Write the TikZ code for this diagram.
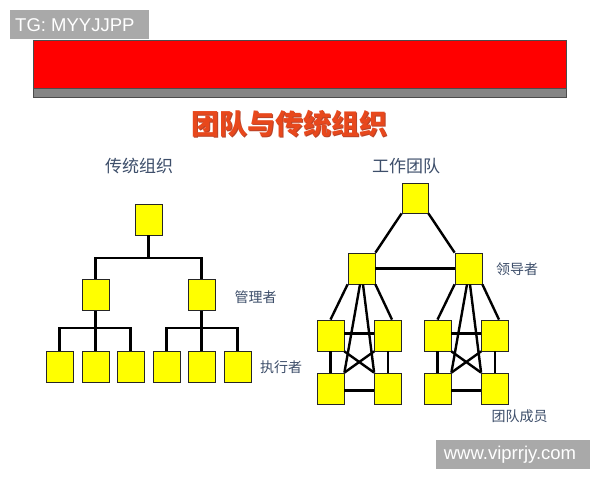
\documentclass[tikz,border=0pt]{standalone}
\usepackage{fontspec}
\setmainfont{Liberation Sans}
\newfontfamily\cjk{Noto Sans CJK SC}
\usetikzlibrary{calc}
\definecolor{boxyellow}{HTML}{FFFF00}
\definecolor{labelblue}{HTML}{3D4E6A}
\definecolor{titlered}{HTML}{E8481C}
\definecolor{shadowred}{HTML}{B8442A}
\definecolor{wmgray}{HTML}{A9A9A9}
\definecolor{barred}{HTML}{FF0000}
\definecolor{bargray}{HTML}{858585}
\begin{document}
\begin{tikzpicture}[x=1pt,y=-1pt,
  member/.style={draw=black!85,line width=0.8pt,fill=boxyellow,minimum width=27pt,minimum height=31pt,inner sep=0pt},
  link/.style={line width=2.4pt,black},
  lbl/.style={font=\cjk\fontsize{14}{14}\selectfont,text=labelblue,inner sep=0pt},
  sublbl/.style={font=\cjk\fontsize{17}{17}\selectfont,text=labelblue,inner sep=0pt},
  wm/.style={fill=wmgray,text=white,font=\fontsize{18.5}{18.5}\selectfont,inner sep=0pt,anchor=north west}
]
\useasboundingbox (0,0) rectangle (600,480);
\fill[white] (0,0) rectangle (600,480);
% banner
\fill[barred] (33,40) rectangle (566,88);
\fill[bargray] (33,88) rectangle (566,97);
\draw[black!70,line width=0.8pt] (33,40) rectangle (566,97);
\draw[black!70,line width=0.8pt] (33,88) -- (566,88);
% watermarks
\node[wm,minimum width=139pt,minimum height=29pt] (wmtop) at (10,10) {};
\node[text=white,font=\fontsize{18.5}{18.5}\selectfont,inner sep=0pt,anchor=west] (wmtoptext) at (15,25) {TG: MYYJJPP};
\node[wm,minimum width=154pt,minimum height=29pt] (wmbot) at (436,440) {};
\node[text=white,font=\fontsize{18.5}{18.5}\selectfont,inner sep=0pt] (wmbottext) at (510,454.5) {www.viprrjy.com};
% title
\node[font=\cjk\bfseries\fontsize{28}{28}\selectfont,text=shadowred,inner sep=0pt] (titleshadow) at (290.2,125.2) {团队与传统组织};
\node[font=\cjk\bfseries\fontsize{28}{28}\selectfont,text=titlered,inner sep=0pt] (title) at (289,124) {团队与传统组织};
\node[sublbl] (sub1) at (139,166) {传统组织};
\node[sublbl] (sub2) at (406,166) {工作团队};
% left tree
\node[member] (t0) at (148.5,219.5) {};
\node[member] (m1) at (95.5,295) {};
\node[member] (m2) at (201.5,295) {};
\node[member] (b1) at (59.5,366.5) {};
\node[member] (b2) at (95.5,366.5) {};
\node[member] (b3) at (130.5,366.5) {};
\node[member] (b4) at (166.5,366.5) {};
\node[member] (b5) at (201.5,366.5) {};
\node[member] (b6) at (237.5,366.5) {};
\coordinate (h0) at (148.5,258);
\coordinate (h1) at (95.5,328);
\coordinate (h2) at (201.5,328);
\draw[link] (t0.south) -- (h0);
\draw[link] (m1.north) |- (h0);
\draw[link] (m2.north) |- (h0);
\draw[link] (m1.south) -- (h1);
\draw[link] (b2.north) -- (h1);
\draw[link] (b1.north) |- (h1);
\draw[link] (b3.north) |- (h1);
\draw[link] (m2.south) -- (h2);
\draw[link] (b5.north) -- (h2);
\draw[link] (b4.north) |- (h2);
\draw[link] (b6.north) |- (h2);
\node[lbl] (lmgr) at (255.5,297) {管理者};
\node[lbl] (lexe) at (281,367) {执行者};
% right tree
\node[member,minimum width=26pt,minimum height=30pt] (r0) at (415,198) {};
\node[member] (L1) at (361.5,268.5) {};
\node[member] (L2) at (468.5,268.5) {};
\node[member] (A1) at (330.5,335.5) {};
\node[member] (A2) at (388,335.5) {};
\node[member] (A3) at (330.5,388.5) {};
\node[member] (A4) at (388,388.5) {};
\node[member] (B1) at (437.5,335.5) {};
\node[member] (B2) at (495,335.5) {};
\node[member] (B3) at (437.5,388.5) {};
\node[member] (B4) at (495,388.5) {};
\draw[link] (r0.south west) -- (L1.north east);
\draw[link] (r0.south east) -- (L2.north west);
\draw[link] (L1.east) -- (L2.west);
\foreach \L/\a/\b/\c/\d in {L1/A1/A2/A3/A4, L2/B1/B2/B3/B4}{
  \draw[link] (\L.south west) -- (\a.north);
  \draw[link] (\L.south east) -- ($(\b.north)+(4,0)$);
  \draw[link] ($(\L.south)+(-1.5,0)$) -- (\c.north east);
  \draw[link] ($(\L.south)+(1.5,0)$) -- (\d.north west);
  \draw[link] (\a.south east) -- (\d.north west);
  \draw[link] (\b.south west) -- (\c.north east);
  \draw[link] ($(\a.east)+(0,-2)$) -- ($(\b.west)+(0,-2)$);
  \draw[link] ($(\c.east)+(0,2)$) -- ($(\d.west)+(0,2)$);
  \draw[link] (\a.south) -- (\c.north);
  \draw[link] (\b.south) -- (\d.north);
}
\node[lbl] (llead) at (517,269) {领导者};
\node[lbl] (lteam) at (519.5,416) {团队成员};
\end{tikzpicture}
\end{document}
